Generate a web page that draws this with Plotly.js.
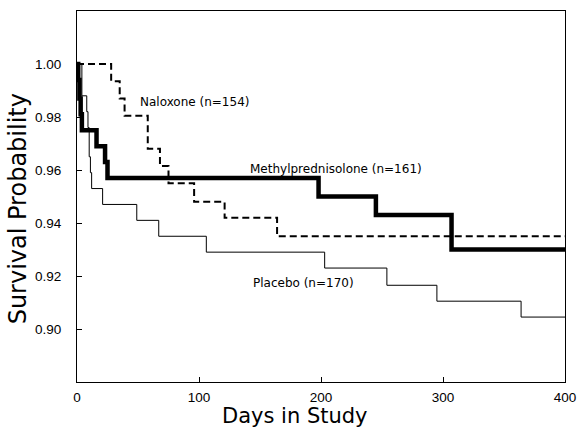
<!DOCTYPE html>
<html>
<head>
<meta charset="utf-8">
<script src="https://cdn.plot.ly/plotly-3.0.1.min.js"></script>
<style>html,body{margin:0;padding:0;background:#fff;}#chart{width:578px;height:431px;}</style>
</head>
<body>
<div id="chart"></div>
<script>
// Kaplan-Meier step data
var methylDays = [0, 1, 2, 3, 4, 16, 23, 25, 198, 245, 307, 400];
var methylSurv = [1.000, 0.994, 0.987, 0.981, 0.975, 0.969, 0.963, 0.957, 0.950, 0.943, 0.930, 0.930];

var naloxoneDays = [0, 28, 35, 39, 58, 68, 75, 96, 121, 164, 400];
var naloxoneSurv = [1.000, 0.9935, 0.987, 0.9805, 0.968, 0.9615, 0.955, 0.948, 0.942, 0.935, 0.935];

var placeboDays = [0, 4, 8, 9, 10, 11, 12, 21, 49, 67, 106, 203, 254, 295, 364, 400];
var placeboSurv = [1.000, 0.988, 0.982, 0.976, 0.965, 0.959, 0.953, 0.947, 0.941, 0.935, 0.929, 0.923, 0.9165, 0.9105, 0.9045, 0.9045];

var xTicks = [0, 100, 200, 300, 400];
var yTicks = [0.90, 0.92, 0.94, 0.96, 0.98, 1.00];
var yTickText = ['0.90', '0.92', '0.94', '0.96', '0.98', '1.00'];

var labelNames = ['Naloxone (n=154)', 'Methylprednisolone (n=161)', 'Placebo (n=170)'];
var labelX = [50, 140, 143];
var labelY = [0.9857, 0.9605, 0.9173];

var xTitle = 'Days in Study';
var yTitle = 'Survival Probability';

var traces = [
  {x: placeboDays, y: placeboSurv, name: 'Placebo', type: 'scatter', mode: 'lines',
   line: {shape: 'hv', color: '#000', width: 1}},
  {x: naloxoneDays, y: naloxoneSurv, name: 'Naloxone', type: 'scatter', mode: 'lines',
   line: {shape: 'hv', color: '#000', width: 2, dash: '7px,4px'}},
  {x: methylDays, y: methylSurv, name: 'Methylprednisolone', type: 'scatter', mode: 'lines',
   line: {shape: 'hv', color: '#000', width: 4.5}}
];

var annotations = labelNames.map(function (t, i) {
  return {x: labelX[i], y: labelY[i], xref: 'x', yref: 'y', text: t, showarrow: false,
          xanchor: 'left', yanchor: 'middle', font: {family: 'DejaVu Sans', size: 12, color: '#000'}};
});
annotations.push({x: 0.4467, y: -0.092, xref: 'paper', yref: 'paper', text: xTitle,
  showarrow: false, xanchor: 'center', yanchor: 'middle', borderpad: 0,
  font: {family: 'DejaVu Sans', size: 21, color: '#000'}});
annotations.push({x: -0.121, y: 0.468, xref: 'paper', yref: 'paper', text: yTitle,
  showarrow: false, xanchor: 'center', yanchor: 'middle', textangle: -90, borderpad: 0,
  font: {family: 'DejaVu Sans', size: 24, color: '#000'}});

var layout = {
  width: 578, height: 431,
  margin: {l: 77, r: 13, t: 11, b: 49, pad: 0},
  paper_bgcolor: '#fff', plot_bgcolor: '#fff',
  showlegend: false,
  font: {family: 'Liberation Sans', color: '#000'},
  xaxis: {
    range: [0, 400], tickvals: xTicks, ticks: 'inside', ticklen: 5, tickcolor: '#000',
    showgrid: false, zeroline: false, showline: true, linecolor: '#000', linewidth: 1, mirror: true,
    tickfont: {family: 'Liberation Sans', size: 13.5, color: '#000'}, ticklabelstandoff: 3
  },
  yaxis: {
    range: [0.88, 1.02], tickvals: yTicks, ticktext: yTickText, ticks: 'inside', ticklen: 5, tickcolor: '#000',
    showgrid: false, zeroline: false, showline: true, linecolor: '#000', linewidth: 1, mirror: true,
    tickfont: {family: 'Liberation Sans', size: 13.5, color: '#000'}, ticklabelstandoff: 12
  },
  annotations: annotations
};

Plotly.newPlot('chart', traces, layout, {displayModeBar: false, staticPlot: true});
</script>
</body>
</html>
